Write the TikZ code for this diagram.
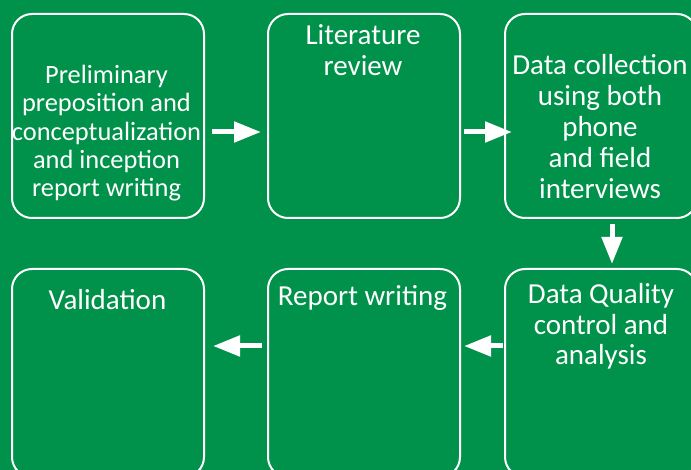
\documentclass[tikz,border=0pt]{standalone}
\usepackage{fontspec}
\setmainfont{Carlito}
\usetikzlibrary{arrows.meta}
\definecolor{leaf}{RGB}{0,146,74}
\tikzset{
  stage/.style={draw=white, line width=2pt, rounded corners=20pt,
    minimum width=192pt, minimum height=204pt, inner sep=0pt},
  tallstage/.style={stage, minimum height=208pt},
  lbl/.style={text=white, align=center, inner sep=0pt,
    font=\fontsize{29}{31}\selectfont},
  smalllbl/.style={lbl, font=\fontsize{26.4}{28.4}\selectfont},
  flow/.style={draw=white, line width=5pt,
    -{Triangle[length=27pt,width=20pt]}}
}
\begin{document}
\begin{tikzpicture}[x=1pt, y=-1pt]
  \useasboundingbox (0,0) rectangle (691,470);
  \clip (0,0) rectangle (691,470);
  \fill[leaf] (0,0) rectangle (691,470);

  % top row
  \node[stage] (b1) at (108,116) {};
  \node[stage] (b2) at (364,116) {};
  \node[stage] (b3) at (601,116) {};
  % bottom row
  \node[tallstage] (b4) at (108,373) {};
  \node[tallstage] (b5) at (364,373) {};
  \node[tallstage] (b6) at (601,373) {};

  % captions (base anchor sits on the last line)
  \node[smalllbl, anchor=base] (t1) at ([shift={(-1.5,184)}]b1.north)
    {Preliminary\\preposition and\\conceptualization\\and inception\\report writing};
  \node[lbl, anchor=base] (t2) at ([shift={(-1,63)}]b2.north)
    {Literature\\review};
  \node[lbl, anchor=base] (t3) at ([shift={(-1,186)}]b3.north)
    {Data collection\\using both\\phone\\and field\\interviews};
  \node[lbl, anchor=base] (t4) at ([shift={(-0.5,42)}]b4.north)
    {Validation};
  \node[lbl, anchor=base] (t5) at ([shift={(-1.5,38)}]b5.north)
    {Report writing};
  \node[lbl, anchor=base] (t6) at ([shift={(0,97)}]b6.north)
    {Data Quality\\control and\\analysis};

  % connectors
  \draw[flow] ([shift={(7,16)}]b1.east) -- ([shift={(-6,16)}]b2.west);
  \draw[flow] ([shift={(3,16)}]b2.east) -- ([shift={(8,16)}]b3.west);
  \draw[flow] ([shift={(11,5)}]b3.south) -- ([shift={(11,-4)}]b6.north);
  \draw[flow] ([shift={(-1,-27)}]b6.west) -- ([shift={(3,-27)}]b5.east);
  \draw[flow] ([shift={(-5,-27)}]b5.west) -- ([shift={(8,-27)}]b4.east);
\end{tikzpicture}
\end{document}
